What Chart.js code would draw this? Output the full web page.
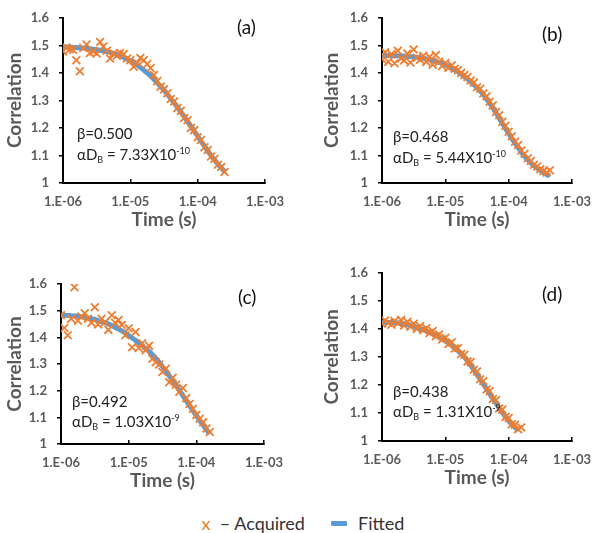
<!DOCTYPE html>
<html>
<head>
<meta charset="utf-8">
<script src="https://cdn.jsdelivr.net/npm/chart.js@4/dist/chart.umd.min.js"></script>
<style>
  body { margin:0; background:#fff; width:606px; height:533px; position:relative; overflow:hidden; font-family:Lato, "Open Sans", sans-serif; }
  canvas { position:absolute; }
  .tag { position:absolute; font-size:19px; color:#111; line-height:1; }
  .note { position:absolute; font-size:15px; color:#222; line-height:1; white-space:nowrap; }
  .note sub { font-size:9px; vertical-align:-3px; }
  .note sup { font-size:9px; vertical-align:6px; }
  #legend { position:absolute; left:0; width:606px; top:510px; text-align:center; font-size:18px; color:#333; line-height:22px; }
  #legend span { display:inline-block; vertical-align:middle; }
</style>
</head>
<body>

<canvas id="ca" width="303" height="245" style="left:0;top:0"></canvas>
<canvas id="cb" width="303" height="245" style="left:303px;top:0"></canvas>
<canvas id="cc" width="303" height="245" style="left:0;top:255px"></canvas>
<canvas id="cd" width="303" height="245" style="left:303px;top:255px"></canvas>

<div class="tag" style="left:237px;top:17px">(a)</div>
<div class="note" style="left:77px;top:126px">β=0.500</div>
<div class="note" style="left:77px;top:146px">αD<sub>B</sub> = 7.33X10<sup>-10</sup></div>

<div class="tag" style="left:542px;top:24px">(b)</div>
<div class="note" style="left:393px;top:129px">β=0.468</div>
<div class="note" style="left:393px;top:149px">αD<sub>B</sub> = 5.44X10<sup>-10</sup></div>

<div class="tag" style="left:238px;top:287px">(c)</div>
<div class="note" style="left:72px;top:394px">β=0.492</div>
<div class="note" style="left:72px;top:413px">αD<sub>B</sub> = 1.03X10<sup>-9</sup></div>

<div class="tag" style="left:542px;top:284px">(d)</div>
<div class="note" style="left:393px;top:384px">β=0.438</div>
<div class="note" style="left:393px;top:403px">αD<sub>B</sub> = 1.31X10<sup>-9</sup></div>

<div id="legend">
  <span style="color:#ED7D31">x</span>
  <span>&nbsp;– Acquired</span>
  <span style="width:16px;height:5px;background:#5B9BD5;margin-left:22px;margin-right:6px;border-radius:1px"></span>
  <span>Fitted</span>
</div>

<script>
// lag times (s), 20 per decade
var tau = [1.00e-6, 1.12e-6, 1.26e-6, 1.41e-6, 1.58e-6, 1.78e-6, 2.00e-6, 2.24e-6, 2.51e-6, 2.82e-6,
           3.16e-6, 3.55e-6, 3.98e-6, 4.47e-6, 5.01e-6, 5.62e-6, 6.31e-6, 7.08e-6, 7.94e-6, 8.91e-6,
           1.00e-5, 1.12e-5, 1.26e-5, 1.41e-5, 1.58e-5, 1.78e-5, 2.00e-5, 2.24e-5, 2.51e-5, 2.82e-5,
           3.16e-5, 3.55e-5, 3.98e-5, 4.47e-5, 5.01e-5, 5.62e-5, 6.31e-5, 7.08e-5, 7.94e-5, 8.91e-5,
           1.00e-4, 1.12e-4, 1.26e-4, 1.41e-4, 1.58e-4, 1.78e-4, 2.00e-4, 2.24e-4, 2.51e-4, 2.82e-4,
           3.16e-4, 3.55e-4, 3.98e-4, 4.47e-4];

var xTicks = [1e-6, 1e-5, 1e-4, 1e-3];
var xTickLabels = ['1.E-06', '1.E-05', '1.E-04', '1.E-03'];
var yTicks = [1, 1.1, 1.2, 1.3, 1.4, 1.5, 1.6];

// (a)
var acqA = [1.478, 1.492, 1.486, 1.484, 1.446, 1.406, 1.490, 1.503, 1.472, 1.478,
            1.470, 1.512, 1.496, 1.480, 1.452, 1.470, 1.462, 1.472, 1.468, 1.452,
            1.446, 1.422, 1.436, 1.454, 1.446, 1.432, 1.418, 1.392, 1.370, 1.350,
            1.340, 1.326, 1.305, 1.296, 1.272, 1.262, 1.236, 1.228, 1.200, 1.192,
            1.166, 1.156, 1.130, 1.120, 1.096, 1.088, 1.066, 1.058, 1.040];
var fitA = [1.495, 1.494, 1.494, 1.493, 1.492, 1.491, 1.490, 1.489, 1.488, 1.486,
            1.484, 1.482, 1.480, 1.477, 1.474, 1.470, 1.466, 1.461, 1.456, 1.450,
            1.444, 1.437, 1.429, 1.420, 1.410, 1.400, 1.389, 1.377, 1.364, 1.351,
            1.337, 1.322, 1.307, 1.291, 1.275, 1.258, 1.241, 1.224, 1.206, 1.188,
            1.170, 1.152, 1.134, 1.117, 1.100, 1.084, 1.069, 1.055, 1.042];

// (b)
var acqB = [1.450, 1.475, 1.440, 1.468, 1.435, 1.480, 1.452, 1.445, 1.470, 1.438,
            1.485, 1.455, 1.448, 1.462, 1.440, 1.458, 1.430, 1.465, 1.440, 1.425,
            1.436, 1.418, 1.428, 1.415, 1.410, 1.400, 1.392, 1.385, 1.372, 1.365,
            1.348, 1.342, 1.325, 1.315, 1.295, 1.282, 1.258, 1.246, 1.222, 1.208,
            1.186, 1.170, 1.150, 1.138, 1.118, 1.106, 1.090, 1.080, 1.066, 1.060,
            1.050, 1.044, 1.038, 1.046];
var fitB = [1.463, 1.463, 1.463, 1.463, 1.462, 1.462, 1.461, 1.461, 1.460, 1.459,
            1.458, 1.457, 1.455, 1.453, 1.451, 1.448, 1.445, 1.442, 1.438, 1.434,
            1.429, 1.424, 1.418, 1.411, 1.404, 1.396, 1.387, 1.378, 1.368, 1.357,
            1.346, 1.334, 1.321, 1.306, 1.290, 1.273, 1.255, 1.236, 1.217, 1.198,
            1.180, 1.162, 1.145, 1.129, 1.113, 1.098, 1.085, 1.073, 1.063, 1.054,
            1.046, 1.038, 1.031, 1.025];

// (c)
var acqC = [1.483, 1.435, 1.408, 1.470, 1.588, 1.462, 1.478, 1.490, 1.470, 1.455,
            1.513, 1.448, 1.470, 1.457, 1.428, 1.483, 1.455, 1.465, 1.446, 1.408,
            1.434, 1.363, 1.420, 1.360, 1.378, 1.352, 1.368, 1.320, 1.307, 1.298,
            1.270, 1.282, 1.232, 1.248, 1.222, 1.196, 1.210, 1.172, 1.150, 1.132,
            1.109, 1.095, 1.082, 1.058, 1.045];
var fitC = [1.483, 1.483, 1.482, 1.481, 1.480, 1.479, 1.477, 1.475, 1.473, 1.470,
            1.467, 1.463, 1.459, 1.455, 1.450, 1.444, 1.438, 1.431, 1.424, 1.416,
            1.407, 1.398, 1.389, 1.379, 1.369, 1.358, 1.347, 1.335, 1.321, 1.306,
            1.290, 1.273, 1.256, 1.238, 1.220, 1.201, 1.182, 1.163, 1.144, 1.125,
            1.107, 1.089, 1.071, 1.054, 1.038];

// (d)
var acqD = [1.418, 1.430, 1.422, 1.415, 1.428, 1.420, 1.432, 1.412, 1.425, 1.408,
            1.418, 1.400, 1.410, 1.396, 1.402, 1.385, 1.392, 1.374, 1.380, 1.362,
            1.368, 1.346, 1.352, 1.330, 1.332, 1.310, 1.308, 1.284, 1.282, 1.254,
            1.248, 1.220, 1.214, 1.184, 1.178, 1.150, 1.146, 1.116, 1.112, 1.086,
            1.082, 1.060, 1.058, 1.042, 1.048];
var fitD = [1.424, 1.424, 1.423, 1.423, 1.422, 1.421, 1.420, 1.418, 1.416, 1.413,
            1.410, 1.406, 1.402, 1.398, 1.393, 1.388, 1.383, 1.377, 1.371, 1.364,
            1.357, 1.349, 1.341, 1.332, 1.322, 1.311, 1.299, 1.285, 1.270, 1.254,
            1.237, 1.220, 1.203, 1.186, 1.169, 1.152, 1.135, 1.118, 1.102, 1.087,
            1.073, 1.060, 1.048, 1.038];

var ORANGE = '#ED7D31', BLUE = '#5B9BD5', GREY = '#595959';

function pts(vals)
{
  return vals.map(function(v, i) { return {x: tau[i], y: v}; });
}

function panel(id, acq, fit, yWidth, pad)
{
  return new Chart(document.getElementById(id), {
    type: 'scatter',
    data: {
      datasets: [
        { label: 'Acquired', data: pts(acq), pointStyle: 'crossRot', pointRadius: 5.5,
          borderColor: ORANGE, backgroundColor: ORANGE, borderWidth: 1.8, showLine: false },
        { label: 'Fitted', data: pts(fit), showLine: true, pointRadius: 0,
          borderColor: BLUE, borderWidth: 5, tension: 0.3 }
      ]
    },
    options: {
      responsive: false,
      animation: false,
      layout: { padding: pad },
      plugins: { legend: { display: false }, tooltip: { enabled: false } },
      scales: {
        x: {
          type: 'logarithmic', min: xTicks[0], max: xTicks[xTicks.length - 1],
          afterBuildTicks: function(s) { s.ticks = xTicks.map(function(v) { return {value: v}; }); },
          afterFit: function(s) { s.height = 50; },
          ticks: {
            color: GREY, padding: 15, maxRotation: 0,
            font: { family: 'Lato', size: 13, weight: 'bold' },
            callback: function(v) { return xTickLabels[xTicks.indexOf(v)]; }
          },
          grid: { drawOnChartArea: false, tickLength: -4, color: '#000', lineWidth: 1.5 },
          border: { color: '#000', width: 2 },
          title: { display: true, text: 'Time (s)', color: GREY, padding: {top: 0, bottom: 2},
                   font: { family: 'Lato', size: 19, weight: 'bold' } }
        },
        y: {
          min: yTicks[0], max: yTicks[yTicks.length - 1],
          afterBuildTicks: function(s) { s.ticks = yTicks.map(function(v) { return {value: v}; }); },
          afterFit: function(s) { s.width = yWidth; },
          ticks: {
            color: GREY, padding: 10,
            font: { family: 'Lato', size: 13, weight: 'bold' },
            callback: function(v) { return String(Math.round(v * 10) / 10); }
          },
          grid: { drawOnChartArea: false, tickLength: 4, color: '#000', lineWidth: 1.5 },
          border: { color: '#000', width: 2 },
          title: { display: true, text: 'Correlation', color: GREY, padding: {top: 2, bottom: 0},
                   font: { family: 'Lato', size: 19, weight: 'bold' } }
        }
      }
    }
  });
}

panel('ca', acqA, fitA, 62, {left: 1, top: 9, right: 38, bottom: 12});
panel('cb', acqB, fitB, 64, {left: 15, top: 13, right: 23, bottom: 12});
panel('cc', acqC, fitC, 60, {left: 1, top: 29, right: 39, bottom: 6});
panel('cd', acqD, fitD, 64, {left: 15, top: 12, right: 25, bottom: 9});
</script>
</body>
</html>
